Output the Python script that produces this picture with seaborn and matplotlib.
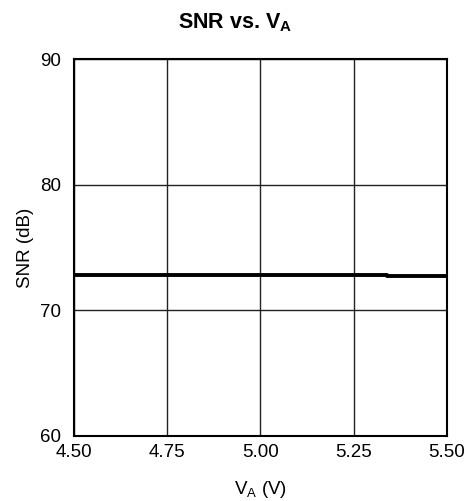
import matplotlib
matplotlib.use('Agg')
import matplotlib.pyplot as plt
import seaborn as sns
import pandas as pd

va = [4.50, 4.75, 5.00, 5.25, 5.34, 5.50]
snr = [72.82, 72.81, 72.81, 72.80, 72.74, 72.74]

sns.set_style('white')
plt.rcParams['font.family'] = ['Liberation Sans', 'DejaVu Sans']
plt.rcParams['text.color'] = 'black'
plt.rcParams['axes.labelcolor'] = 'black'

fig = plt.figure(figsize=(4.71, 5.01), dpi=100)
ax = fig.add_axes([0.157, 0.130, 0.792, 0.752])

df = pd.DataFrame({'va': va, 'snr': snr})
sns.lineplot(data=df, x='va', y='snr', ax=ax, color='black', linewidth=2.8,
             drawstyle='steps-post')

ax.set_xlim(4.5, 5.5)
ax.set_ylim(60, 90)
ax.set_xticks([4.50, 4.75, 5.00, 5.25, 5.50])
ax.set_xticklabels(['4.50', '4.75', '5.00', '5.25', '5.50'])
ax.set_yticks([60, 70, 80, 90])
ax.grid(True, color='#222222', linewidth=1.0)
ax.tick_params(length=0, labelsize=13.5, colors='black')
ax.tick_params(axis='x', pad=6)
ax.tick_params(axis='y', pad=9)
for s in ax.spines.values():
    s.set_color('black')
    s.set_linewidth(1.5)

ax.set_xlabel('V$_\\mathregular{A}$ (V)', fontsize=13.5, labelpad=13)
ax.set_ylabel('SNR (dB)', fontsize=13.5, labelpad=5)
fig.text(0.5, 0.955, 'SNR vs. V$_\\mathregular{A}$', fontsize=15.5, fontweight='bold',
         ha='center', va='center')

fig.savefig('out.png', dpi=100)
